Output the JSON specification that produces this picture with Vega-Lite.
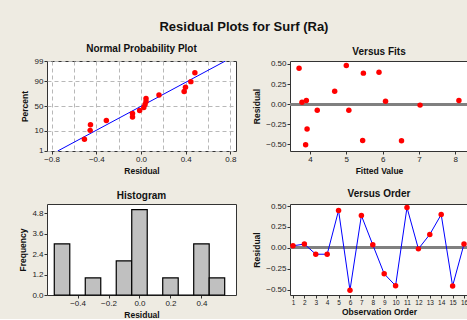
{
  "$schema": "https://vega.github.io/schema/vega-lite/v6.json",
  "background": "#EEEBE2",
  "padding": {"left": 18, "top": 20, "right": 0, "bottom": 0},
  "title": {"text": "Residual Plots for Surf (Ra)", "fontSize": 13, "fontWeight": "bold", "font": "Liberation Sans", "anchor": "middle", "color": "#111111", "offset": 10},
  "datasets": {
    "resid": [
      {"order": 1, "fit": 3.78, "resid": 0.025},
      {"order": 2, "fit": 3.9, "resid": 0.045},
      {"order": 3, "fit": 4.2, "resid": -0.076},
      {"order": 4, "fit": 5.07, "resid": -0.076},
      {"order": 5, "fit": 3.7, "resid": 0.446},
      {"order": 6, "fit": 3.88, "resid": -0.506},
      {"order": 7, "fit": 5.47, "resid": 0.386},
      {"order": 8, "fit": 6.08, "resid": 0.036},
      {"order": 9, "fit": 3.92, "resid": -0.31},
      {"order": 10, "fit": 5.45, "resid": -0.452},
      {"order": 11, "fit": 5.0, "resid": 0.482},
      {"order": 12, "fit": 7.03, "resid": -0.012},
      {"order": 13, "fit": 4.68, "resid": 0.161},
      {"order": 14, "fit": 5.9, "resid": 0.398},
      {"order": 15, "fit": 6.52, "resid": -0.455},
      {"order": 16, "fit": 8.1, "resid": 0.045}
    ],
    "npp": [
      {"resid": -0.506, "z": -1.72},
      {"resid": -0.455, "z": -1.26},
      {"resid": -0.452, "z": -0.975},
      {"resid": -0.31, "z": -0.753},
      {"resid": -0.076, "z": -0.563},
      {"resid": -0.076, "z": -0.392},
      {"resid": -0.012, "z": -0.231},
      {"resid": 0.025, "z": -0.0765},
      {"resid": 0.036, "z": 0.0765},
      {"resid": 0.045, "z": 0.231},
      {"resid": 0.045, "z": 0.392},
      {"resid": 0.161, "z": 0.563},
      {"resid": 0.386, "z": 0.753},
      {"resid": 0.398, "z": 0.975},
      {"resid": 0.446, "z": 1.26},
      {"resid": 0.482, "z": 1.72}
    ],
    "fitline": [
      {"resid": -0.745, "z": -2.3263},
      {"resid": 0.755, "z": 2.3263}
    ],
    "hist": [
      {"lo": -0.55, "hi": -0.45, "n": 3},
      {"lo": -0.45, "hi": -0.35, "n": 0},
      {"lo": -0.35, "hi": -0.25, "n": 1},
      {"lo": -0.25, "hi": -0.15, "n": 0},
      {"lo": -0.15, "hi": -0.05, "n": 2},
      {"lo": -0.05, "hi": 0.05, "n": 5},
      {"lo": 0.05, "hi": 0.15, "n": 0},
      {"lo": 0.15, "hi": 0.25, "n": 1},
      {"lo": 0.25, "hi": 0.35, "n": 0},
      {"lo": 0.35, "hi": 0.45, "n": 3},
      {"lo": 0.45, "hi": 0.55, "n": 1}
    ]
  },
  "columns": 2,
  "spacing": {"row": 53, "column": 54},
  "bounds": "flush",
  "concat": [
    {
      "title": "Normal Probability Plot",
      "width": 189,
      "height": 90,
      "layer": [
        {
          "data": {"name": "fitline"},
          "mark": {"type": "line", "color": "#0000FF", "strokeWidth": 1, "clip": true},
          "encoding": {
            "x": {"field": "resid", "type": "quantitative", "scale": {"domain": [-0.841, 0.85], "nice": false, "zero": false},
              "axis": {"title": "Residual", "values": [-0.8, -0.6, -0.4, -0.2, 0, 0.2, 0.4, 0.6, 0.8], "tickCount": 30, "format": ".1f", "labelOverlap": false,
                "labelExpr": "round(datum.value*10) % 4 == 0 ? datum.label : ''",
                "tickOpacity": {"condition": {"test": "round(datum.value*10) % 4 == 0", "value": 1}, "value": 0},
                "grid": true, "gridDash": [4, 3], "gridColor": "#B8B8B8"}},
            "y": {"field": "z", "type": "quantitative", "scale": {"domain": [-2.3264, 2.3264], "nice": false, "zero": false},
              "axis": {"title": "Percent", "values": [-2.3263, -1.2816, 0, 1.2816, 2.3263], "tickCount": 30, "labelOverlap": false, "titlePadding": 5,
                "labelExpr": "datum.value < -2 ? '1' : datum.value < -1 ? '10' : datum.value < 1 ? '50' : datum.value < 2 ? '90' : '99'",
                "grid": true, "gridDash": [4, 3], "gridColor": "#B8B8B8"}}
          }
        },
        {
          "data": {"name": "npp"},
          "mark": {"type": "circle", "color": "#FF0000", "size": 30, "opacity": 1},
          "encoding": {
            "x": {"field": "resid", "type": "quantitative"},
            "y": {"field": "z", "type": "quantitative"}
          }
        }
      ]
    },
    {
      "title": "Versus Fits",
      "width": 178,
      "height": 90,
      "data": {"name": "resid"},
      "layer": [
        {
          "mark": {"type": "rule", "color": "#808080", "strokeWidth": 2},
          "encoding": {"y": {"datum": 0}}
        },
        {
          "mark": {"type": "circle", "color": "#FF0000", "size": 30, "opacity": 1},
          "encoding": {
            "x": {"field": "fit", "type": "quantitative", "scale": {"domain": [3.45, 8.35], "nice": false, "zero": false},
              "axis": {"title": "Fitted Value", "values": [4, 5, 6, 7, 8], "tickCount": 30, "format": "d", "labelOverlap": false}},
            "y": {"field": "resid", "type": "quantitative", "scale": {"domain": [-0.583, 0.537], "nice": false, "zero": false},
              "axis": {"title": "Residual", "values": [-0.5, -0.25, 0, 0.25, 0.5], "tickCount": 30, "format": ".2f", "labelOverlap": false, "titlePadding": 4}}
          }
        }
      ]
    },
    {
      "title": "Histogram",
      "width": 189,
      "height": 91,
      "data": {"name": "hist"},
      "mark": {"type": "rect", "fill": "#C0C0C0", "stroke": "#000000", "strokeWidth": 1.2},
      "encoding": {
        "x": {"field": "lo", "type": "quantitative", "scale": {"domain": [-0.597, 0.623], "nice": false, "zero": false},
          "axis": {"title": "Residual", "values": [-0.4, -0.2, 0, 0.2, 0.4], "tickCount": 30, "format": ".1f", "labelOverlap": false}},
        "x2": {"field": "hi"},
        "y": {"field": "n", "type": "quantitative", "scale": {"domain": [0, 5.33], "nice": false},
          "axis": {"title": "Frequency", "values": [0, 1.2, 2.4, 3.6, 4.8], "tickCount": 30, "format": ".1f", "labelOverlap": false, "titlePadding": 4}},
        "y2": {"datum": 0}
      }
    },
    {
      "title": "Versus Order",
      "width": 178,
      "height": 91,
      "data": {"name": "resid"},
      "layer": [
        {
          "mark": {"type": "rule", "color": "#808080", "strokeWidth": 2},
          "encoding": {"y": {"datum": 0}}
        },
        {
          "mark": {"type": "line", "color": "#0000FF", "strokeWidth": 1},
          "encoding": {
            "x": {"field": "order", "type": "quantitative", "scale": {"domain": [0.74, 16.35], "nice": false, "zero": false},
              "axis": {"title": "Observation Order", "values": [1, 2, 3, 4, 5, 6, 7, 8, 9, 10, 11, 12, 13, 14, 15, 16], "tickCount": 30, "format": "d", "labelFontSize": 6.5, "labelOverlap": false, "titlePadding": 2}},
            "y": {"field": "resid", "type": "quantitative", "scale": {"domain": [-0.563, 0.524], "nice": false, "zero": false},
              "axis": {"title": "Residual", "values": [-0.5, -0.25, 0, 0.25, 0.5], "tickCount": 30, "format": ".2f", "labelOverlap": false, "titlePadding": 4}}
          }
        },
        {
          "mark": {"type": "circle", "color": "#FF0000", "size": 30, "opacity": 1},
          "encoding": {
            "x": {"field": "order", "type": "quantitative"},
            "y": {"field": "resid", "type": "quantitative"}
          }
        }
      ]
    }
  ],
  "config": {
    "font": "Liberation Sans",
    "view": {"stroke": "#333333", "strokeWidth": 1, "fill": "#FFFFFF"},
    "axis": {"domain": false, "grid": false, "labelOverlap": false, "labelBound": false, "tickColor": "#333333", "tickSize": 3, "labelFont": "Liberation Sans", "labelFontSize": 8, "labelColor": "#222222", "labelPadding": 1, "titleFont": "Liberation Sans", "titleFontSize": 8.5, "titleFontWeight": "bold", "titleColor": "#111111", "titlePadding": 3},
    "title": {"font": "Liberation Sans", "fontSize": 10, "fontWeight": "bold", "color": "#111111", "offset": 3}
  }
}
